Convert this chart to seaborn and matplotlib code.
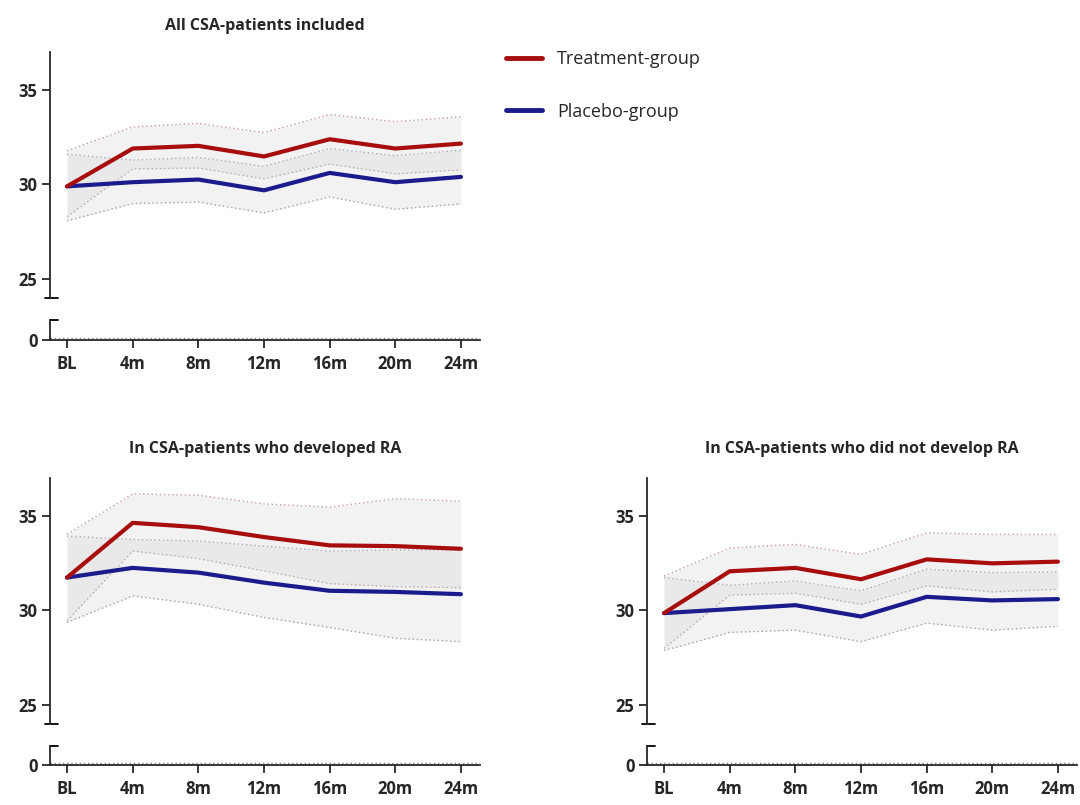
import numpy as np
import pandas as pd
import matplotlib
matplotlib.use("Agg")
import matplotlib.pyplot as plt
import seaborn as sns
from matplotlib.lines import Line2D

# ---- data ----
timepoints = ["BL", "4m", "8m", "12m", "16m", "20m", "24m"]
titles = ["All CSA-patients included",
          "In CSA-patients who developed RA",
          "In CSA-patients who did not develop RA"]

# panel 1: all
p1_treat = [29.9, 31.9, 32.04, 31.48, 32.39, 31.9, 32.16]
p1_treat_hi = [31.78, 33.04, 33.23, 32.74, 33.7, 33.32, 33.58]
p1_treat_lo = [28.3, 30.82, 30.87, 30.3, 31.08, 30.56, 30.77]
p1_plac = [29.9, 30.12, 30.26, 29.69, 30.61, 30.12, 30.4]
p1_plac_hi = [31.6, 31.29, 31.43, 30.96, 31.9, 31.52, 31.81]
p1_plac_lo = [28.08, 28.99, 29.07, 28.5, 29.34, 28.69, 28.97]

# panel 2: developed RA
p2_treat = [31.74, 34.63, 34.4, 33.88, 33.44, 33.4, 33.26]
p2_treat_hi = [34.02, 36.16, 36.09, 35.63, 35.46, 35.91, 35.77]
p2_treat_lo = [29.46, 33.14, 32.74, 32.09, 31.42, 31.26, 31.2]
p2_plac = [31.74, 32.25, 32.0, 31.47, 31.04, 30.98, 30.86]
p2_plac_hi = [33.93, 33.75, 33.67, 33.4, 33.14, 33.2, 33.2]
p2_plac_lo = [29.37, 30.77, 30.33, 29.63, 29.1, 28.53, 28.35]

# panel 3: did not develop RA
p3_treat = [29.86, 32.07, 32.25, 31.65, 32.7, 32.49, 32.58]
p3_treat_hi = [31.82, 33.3, 33.49, 32.96, 34.1, 34.02, 34.02]
p3_treat_lo = [28.0, 30.81, 30.91, 30.33, 31.3, 30.98, 31.12]
p3_plac = [29.86, 30.07, 30.28, 29.68, 30.72, 30.53, 30.6]
p3_plac_hi = [31.74, 31.33, 31.56, 31.04, 32.18, 32.0, 32.04]
p3_plac_lo = [27.88, 28.84, 28.96, 28.35, 29.33, 28.96, 29.16]

group_names = ["Treatment-group", "Placebo-group"]
RED = "#a80d0d"
BLUE = "#1b1b8e"

sns.set_style("ticks")
plt.rcParams['font.family'] = ['Open Sans', 'DejaVu Sans']

fig = plt.figure(figsize=(10.8, 8.05), dpi=100)

W, H = 1080, 805


def fx(px):
    return px / W


def fy(py):
    return 1 - py / H


panels = [
    dict(left=50, right=480, top=52, bot=298, cap=320, zero=340, pad=16,
         data=(p1_treat, p1_treat_hi, p1_treat_lo, p1_plac, p1_plac_hi, p1_plac_lo)),
    dict(left=50, right=480, top=478, bot=724, cap=746, zero=765, pad=18,
         data=(p2_treat, p2_treat_hi, p2_treat_lo, p2_plac, p2_plac_hi, p2_plac_lo)),
    dict(left=647, right=1077, top=478, bot=724, cap=746, zero=765, pad=18,
         data=(p3_treat, p3_treat_hi, p3_treat_lo, p3_plac, p3_plac_hi, p3_plac_lo)),
]

XLIM = (-0.26, 6.29)
x = np.arange(len(timepoints))

for i, p in enumerate(panels):
    wpx = p["right"] - p["left"]
    ax = fig.add_axes([fx(p["left"]), fy(p["bot"]), fx(wpx), (p["bot"] - p["top"]) / H])
    axl = fig.add_axes([fx(p["left"]), fy(p["zero"]), fx(wpx), (p["zero"] - p["cap"]) / H])

    t, thi, tlo, pl, phi, plo = p["data"]
    # bands
    ax.fill_between(x, tlo, thi, color="#d9d9d9", alpha=0.33, lw=0)
    ax.fill_between(x, plo, phi, color="#d9d9d9", alpha=0.33, lw=0)
    for arr, col in [(thi, "#c89a9a"), (tlo, "#b8a8a8"), (phi, "#a8a8c0"), (plo, "#a0a0b8")]:
        ax.plot(x, arr, ls=(0, (1, 2)), lw=1.0, color=col)

    df = pd.DataFrame({
        "time": np.concatenate([x, x]),
        "value": list(t) + list(pl),
        "group": [group_names[0]] * len(x) + [group_names[1]] * len(x),
    })
    sns.lineplot(data=df, x="time", y="value", hue="group",
                 palette={group_names[0]: RED, group_names[1]: BLUE},
                 hue_order=[group_names[1], group_names[0]],
                 lw=3, ax=ax, legend=False)

    ax.set_xlim(*XLIM)
    ax.set_ylim(24, 37)
    ax.set_yticks([25, 30, 35])
    ax.set_xticks([])
    ax.set_xlabel("")
    ax.set_ylabel("")
    for s in ["top", "right", "bottom"]:
        ax.spines[s].set_visible(False)
    ax.spines["left"].set_linewidth(1.3)
    ax.tick_params(axis="y", length=6, width=1.3, labelsize=12, pad=3)
    for lab in ax.get_yticklabels():
        lab.set_fontweight("bold")
    # bottom cap of upper axis
    ax.plot([-5 / wpx, 8 / wpx], [0, 0], transform=ax.transAxes, color="black",
            lw=1.3, clip_on=False)
    ax.set_title(titles[i], fontsize=11.5, fontweight="bold", pad=p["pad"])

    # lower axis
    axl.set_xlim(*XLIM)
    axl.set_ylim(0, 20 / 19)
    axl.set_yticks([0])
    axl.set_xticks(x)
    axl.set_xticklabels(timepoints)
    axl.axhline(0.12, ls=(0, (1, 2)), lw=1.0, color="#888888")
    for s in ["top", "right"]:
        axl.spines[s].set_visible(False)
    axl.spines["left"].set_linewidth(1.3)
    axl.spines["bottom"].set_linewidth(1.3)
    axl.tick_params(axis="both", length=6, width=1.3, labelsize=12, pad=3)
    axl.tick_params(axis="x", pad=5)
    for lab in axl.get_xticklabels() + axl.get_yticklabels():
        lab.set_fontweight("bold")
    axl.plot([0, 8 / wpx], [1, 1], transform=axl.transAxes, color="black",
             lw=1.3, clip_on=False)

# legend
handles = [Line2D([0], [0], color=RED, lw=3.5), Line2D([0], [0], color=BLUE, lw=3.5)]
fig.legend(handles, group_names, loc="upper left",
           bbox_to_anchor=(fx(490), fy(34)), frameon=False, fontsize=13,
           handlelength=2.0, handletextpad=0.8, labelspacing=1.9)

fig.savefig("out.png", dpi=100)
